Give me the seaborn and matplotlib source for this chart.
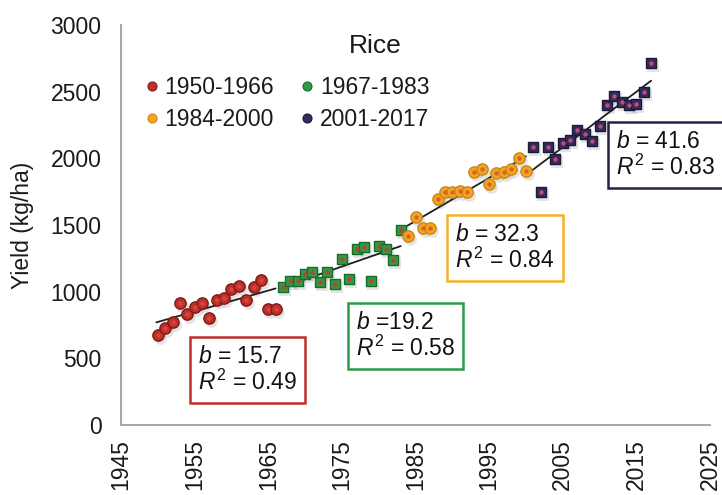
import numpy as np
import pandas as pd
import matplotlib
matplotlib.use("Agg")
import matplotlib.pyplot as plt
import matplotlib.transforms as mtransforms
from matplotlib.lines import Line2D
import seaborn as sns

# Rice yield (kg/ha) by year, split into four 17-year periods
periods = ["1950-1966", "1967-1983", "1984-2000", "2001-2017"]
years_1950_1966 = [1950, 1951, 1952, 1953, 1954, 1955, 1956, 1957, 1958, 1959,
                   1960, 1961, 1962, 1963, 1964, 1965, 1966]
years_1967_1983 = [1967, 1968, 1969, 1970, 1971, 1972, 1973, 1974, 1975, 1976,
                   1977, 1978, 1979, 1980, 1981, 1982, 1983]
years_1984_2000 = [1984, 1985, 1986, 1987, 1988, 1989, 1990, 1991, 1992, 1993,
                   1994, 1995, 1996, 1997, 1998, 1999, 2000]
years_2001_2017 = [2001, 2002, 2003, 2004, 2005, 2006, 2007, 2008, 2009, 2010,
                   2011, 2012, 2013, 2014, 2015, 2016, 2017]
yield_1950_1966 = [675, 728, 775, 915, 832, 888, 913, 800, 938, 950,
                   1018, 1043, 938, 1038, 1088, 868, 868]
yield_1967_1983 = [1038, 1083, 1083, 1133, 1150, 1075, 1150, 1058, 1243, 1093,
                   1318, 1338, 1080, 1343, 1318, 1238, 1463]
yield_1984_2000 = [1418, 1558, 1475, 1475, 1693, 1750, 1750, 1758, 1750, 1895,
                   1918, 1805, 1888, 1900, 1918, 2000, 1908]
yield_2001_2017 = [2083, 1750, 2083, 1993, 2113, 2138, 2213, 2183, 2133, 2243,
                   2400, 2470, 2425, 2400, 2408, 2495, 2713]

# Trend slopes (kg/ha per year) and fit quality for each period
slopes = [15.7, 19.2, 32.3, 41.6]
r_squared = [0.49, 0.58, 0.84, 0.83]
slope_labels = ["15.7", "19.2", "32.3", "41.6"]
r2_labels = ["0.49", "0.58", "0.84", "0.83"]

x_ticks = [1945, 1955, 1965, 1975, 1985, 1995, 2005, 2015, 2025]
y_ticks = [0, 500, 1000, 1500, 2000, 2500, 3000]

all_years = [years_1950_1966, years_1967_1983, years_1984_2000, years_2001_2017]
all_yields = [yield_1950_1966, yield_1967_1983, yield_1984_2000, yield_2001_2017]

df = pd.concat(
    [pd.DataFrame({"year": y, "yield": v, "period": p})
     for y, v, p in zip(all_years, all_yields, periods)],
    ignore_index=True,
)

face = {"1950-1966": "#c0302a", "1967-1983": "#2f9a45",
        "1984-2000": "#f2a51e", "2001-2017": "#2f2d5c"}
edge = {"1950-1966": "#7e1a16", "1967-1983": "#1c6a2c",
        "1984-2000": "#c9861a", "2001-2017": "#1b1a3a"}
core = {"1950-1966": "#d8453c", "1967-1983": "#b8442e",
        "1984-2000": "#d9612a", "2001-2017": "#c9486e"}
shape = {"1950-1966": "o", "1967-1983": "s", "1984-2000": "o", "2001-2017": "s"}
box_edge = ["#c0302a", "#2f9a45", "#f5b325", "#23224a"]

FS = 16.5

sns.set_theme(style="white")
plt.rcParams["font.family"] = ["Liberation Sans", "DejaVu Sans"]
plt.rcParams["mathtext.fontset"] = "custom"
plt.rcParams["mathtext.rm"] = "Liberation Sans"
plt.rcParams["mathtext.it"] = "Liberation Sans:italic"

fig = plt.figure(figsize=(7.22, 4.95), dpi=100)
ax = fig.add_axes([0.1676, 0.1414, 0.8158, 0.8081])

# soft drop shadow under the markers
shadow = mtransforms.offset_copy(ax.transData, fig=fig, x=2.0, y=-3.0, units="dots")
for p in periods:
    sub = df[df["period"] == p]
    ax.scatter(sub["year"], sub["yield"], s=85, marker=shape[p], color="#888888",
               alpha=0.22, linewidths=0, transform=shadow, zorder=1)

# markers: outer body and a small coloured core
for p in periods:
    sub = df[df["period"] == p]
    sns.scatterplot(data=sub, x="year", y="yield", ax=ax, marker=shape[p],
                    s=66 if shape[p] == "o" else 52, color=face[p],
                    edgecolor=edge[p], linewidth=1.0, zorder=3, legend=False)
    sns.scatterplot(data=sub, x="year", y="yield", ax=ax, marker="o",
                    s=10, color=core[p], linewidth=0, zorder=4, legend=False)

# trend line per period with the stated slope, passing through the period mean
for yrs, vals, b in zip(all_years, all_yields, slopes):
    xm, ym = np.mean(yrs), np.mean(vals)
    xs = np.array([yrs[0] - 0.2, yrs[-1]], dtype=float)
    ax.plot(xs, ym + b * (xs - xm), color="#1e1e1e", lw=1.3, zorder=2)

# slope / R^2 annotation boxes
box_pos = [(1955.4, 413), (1976.9, 668), (1990.4, 1328), (2012.2, 2025)]
for (bx, by), bl, rl, ec, i in zip(box_pos, slope_labels, r2_labels, box_edge, range(4)):
    eq = " =" if i == 1 else " = "
    txt = "$b$" + eq + bl + "\n" + "$R^{\\mathrm{2}}$ = " + rl
    ax.text(bx, by, txt, ha="left", va="center", fontsize=FS, color="#111111",
            linespacing=1.1, zorder=5,
            bbox=dict(boxstyle="square,pad=0.35", facecolor="white",
                      edgecolor=ec, linewidth=1.8))

ax.set_xlim(1945, 2025)
ax.set_ylim(0, 3000)
ax.set_xticks(x_ticks)
ax.set_yticks(y_ticks)
ax.set_xticklabels([str(t) for t in x_ticks], rotation=90, fontsize=FS, color="#1a1a1a")
ax.set_yticklabels([str(t) for t in y_ticks], fontsize=FS, color="#1a1a1a")
ax.tick_params(axis="x", direction="out", length=6, width=1.3, color="#a8a8a8", pad=4)
ax.tick_params(axis="y", length=0, pad=14)
ax.set_xlabel("")
ax.set_ylabel("Yield (kg/ha)", fontsize=FS, color="#1a1a1a", labelpad=12)

for side in ["top", "right"]:
    ax.spines[side].set_visible(False)
for side in ["left", "bottom"]:
    ax.spines[side].set_color("#a8a8a8")
    ax.spines[side].set_linewidth(1.5)

ax.text(0.432, 0.948, "Rice", transform=ax.transAxes, ha="center", va="center",
        fontsize=19, color="#1a1a1a")

handles = [Line2D([], [], marker="o", linestyle="", markersize=6.5,
                  markerfacecolor=face[p], markeredgecolor=edge[p],
                  markeredgewidth=0.8, label=p) for p in periods]
order = [0, 2, 1, 3]
leg = ax.legend([handles[i] for i in order], [periods[i] for i in order],
                ncol=2, loc="upper left", bbox_to_anchor=(0.035, 0.872),
                frameon=False, fontsize=FS, handletextpad=0.1,
                columnspacing=1.0, labelspacing=0.4, handlelength=0.9,
                borderpad=0.0, borderaxespad=0.0)
for t in leg.get_texts():
    t.set_color("#1a1a1a")

fig.savefig("out.png", dpi=100)
